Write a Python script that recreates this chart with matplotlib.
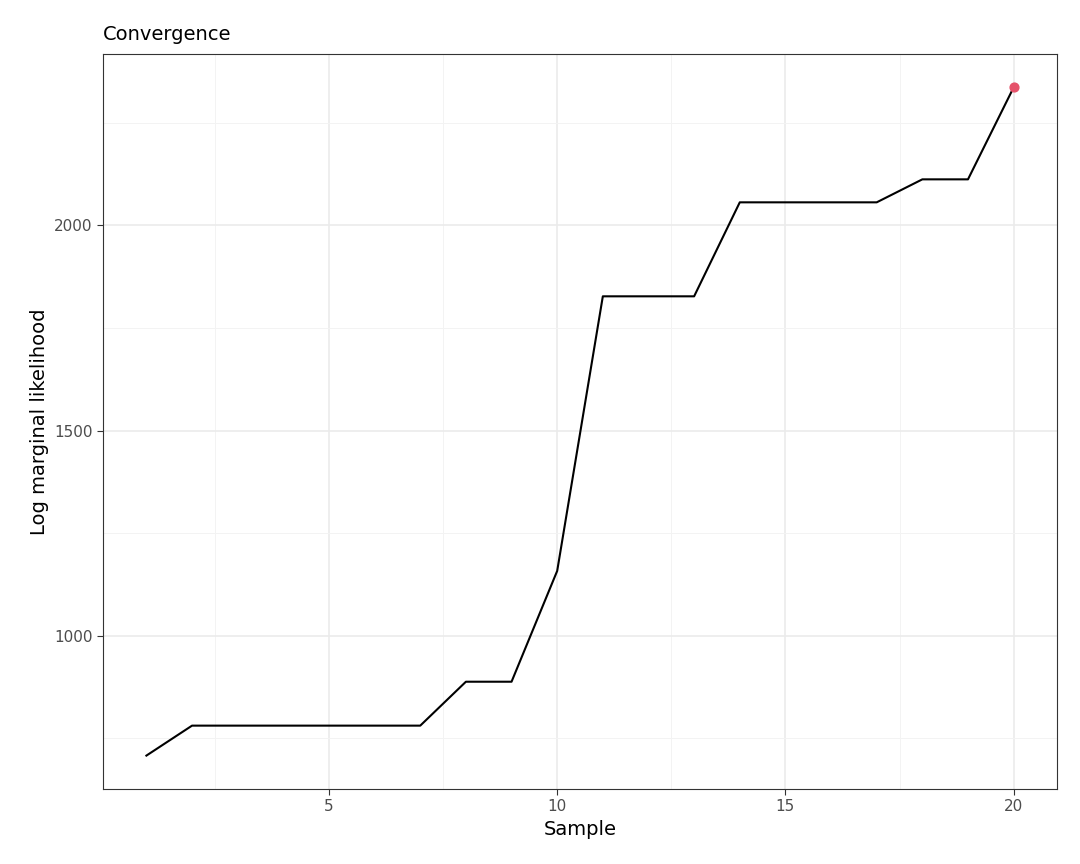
import matplotlib.pyplot as plt
from matplotlib.ticker import MultipleLocator

samples = list(range(1, 21))
log_ml = [708, 781, 781, 781, 781, 781, 781, 888, 888, 1158,
          1827, 1827, 1827, 2056, 2056, 2056, 2056, 2112, 2112, 2336]

fig = plt.figure(figsize=(10.8, 8.64), dpi=100)
ax = fig.add_axes([0.0954, 0.0868, 0.8833, 0.8507])

ax.plot(samples, log_ml, color='black', lw=1.5, zorder=3)
ax.scatter([samples[-1]], [log_ml[-1]], color='#E5526A', s=40, zorder=4)

pad_y = (max(log_ml) - min(log_ml)) * 0.05
ax.set_xlim(1 - 0.95, 20.95)
ax.set_ylim(min(log_ml) - pad_y, max(log_ml) + pad_y)

ax.xaxis.set_major_locator(MultipleLocator(5))
ax.xaxis.set_minor_locator(MultipleLocator(2.5))
ax.yaxis.set_major_locator(MultipleLocator(500))
ax.yaxis.set_minor_locator(MultipleLocator(250))
ax.grid(which='major', color='#EBEBEB', lw=1.2, zorder=0)
ax.grid(which='minor', color='#F3F3F3', lw=0.7, zorder=0)
ax.tick_params(which='minor', length=0)
ax.tick_params(which='major', length=4, color='#333333', labelsize=11, labelcolor='#4D4D4D')
for s in ax.spines.values():
    s.set_color('#333333')
    s.set_linewidth(0.8)

ax.set_xlabel('Sample', fontsize=14)
ax.set_ylabel('Log marginal likelihood', fontsize=14)
ax.set_title('Convergence', loc='left', fontsize=14, pad=10)

fig.savefig('out.png', dpi=100)
